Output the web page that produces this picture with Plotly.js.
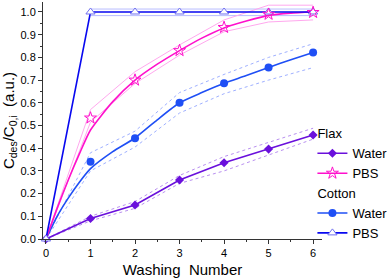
<!DOCTYPE html>
<html><head><meta charset="utf-8">
<script src="https://cdn.plot.ly/plotly-3.0.1.min.js"></script>
<style>html,body{margin:0;padding:0;background:#fff}#chart{width:392px;height:280px}</style>
</head><body><div id="chart"></div>
<script>
// Washing numbers
const washes = [0, 1, 2, 3, 4, 5, 6];
// Measured points
const flaxWater = [0, 0.09, 0.15, 0.26, 0.336, 0.396, 0.458];
const flaxPBS = [0, 0.533, 0.70, 0.83, 0.932, 0.99, 0.998];
const cottonWater = [0, 0.34, 0.444, 0.60, 0.686, 0.756, 0.822];
const cottonPBS = [0, 1, 1, 1, 1, 1, 1];
// Band limits (read from dashed / thin lines)
const flaxWaterUp = [0, 0.10, 0.165, 0.28, 0.363, 0.425, 0.488];
const flaxWaterLo = [0, 0.08, 0.135, 0.245, 0.30, 0.37, 0.44];
const flaxPBSUp = [0, 0.57, 0.737, 0.855, 0.965, 1.03, 1.03];
const flaxPBSLo = [0, 0.515, 0.685, 0.81, 0.913, 0.956, 0.965];
const cottonWaterUp = [0, 0.38, 0.475, 0.645, 0.725, 0.80, 0.86];
const cottonWaterLo = [0, 0.30, 0.405, 0.555, 0.64, 0.70, 0.755];
const cottonPBSx = [1, 2, 3, 4, 5, 6];
const cottonPBSUp = [1.013, 1.013, 1.013, 1.013, 1.013, 1.013];
const cottonPBSLo = [0.984, 0.984, 0.984, 0.984, 0.984, 0.984];
// Fitted curves
const curveX = [0, 0.25, 0.5, 0.75, 1, 1.5, 2, 2.5, 3, 3.5, 4, 4.5, 5, 5.5, 6];
const flaxPBSCurve = [0, 0.135, 0.26, 0.375, 0.48, 0.605, 0.70, 0.77, 0.83, 0.885, 0.93, 0.96, 0.985, 0.995, 1.0];
const cottonWaterCurve = [0, 0.10, 0.18, 0.25, 0.31, 0.385, 0.445, 0.525, 0.60, 0.645, 0.686, 0.72, 0.756, 0.79, 0.822];

const cFW = '#6A10DC', cFP = '#FF10CC', cCW = '#1F4FF5', cCP = '#0808F0';
const band = (x, y, col, dash) => ({x, y, mode: 'lines', line: {color: col, width: 1, dash: dash}, showlegend: false, hoverinfo: 'skip'});

const traces = [
  band(cottonPBSx, cottonPBSUp, '#B8BCFF', 'solid'),
  band(cottonPBSx, cottonPBSLo, '#B8BCFF', 'solid'),
  band(washes, flaxPBSUp, '#FFA8EE', 'solid'),
  band(washes, flaxPBSLo, '#FFA8EE', 'solid'),
  band(washes, cottonWaterUp, '#9FB0FF', 'dot'),
  band(washes, cottonWaterLo, '#9FB0FF', 'dot'),
  band(washes, flaxWaterUp, '#B990F0', 'dot'),
  band(washes, flaxWaterLo, '#B990F0', 'dot'),
  {x: curveX, y: cottonWaterCurve, mode: 'lines', line: {color: cCW, width: 1.6, shape: 'spline', smoothing: 0.6}, showlegend: false},
  {x: curveX, y: flaxPBSCurve, mode: 'lines', line: {color: cFP, width: 1.6, shape: 'spline', smoothing: 0.6}, showlegend: false},
  {x: washes, y: flaxWater, mode: 'lines+markers', line: {color: cFW, width: 1.6}, marker: {symbol: 'diamond', size: 7, color: cFW}, showlegend: false, cliponaxis: false},
  {x: washes, y: cottonPBS, mode: 'lines+markers', line: {color: cCP, width: 1.6}, marker: {symbol: 'triangle-up', size: 8, color: '#ffffff', line: {color: '#7070F0', width: 1}}, showlegend: false, cliponaxis: false},
  {x: washes.slice(1), y: flaxPBS.slice(1), mode: 'markers', marker: {symbol: 'star-open', size: 9, color: cFP, line: {width: 1}}, showlegend: false, cliponaxis: false},
  {x: washes.slice(1), y: cottonWater.slice(1), mode: 'markers', marker: {symbol: 'circle', size: 8, color: cCW}, showlegend: false, cliponaxis: false},
  // legend entries
  {x: [null], y: [null], mode: 'lines+markers', name: 'Water', legendgroup: 'flax', legendgrouptitle: {text: 'Flax', font: {size: 13, color: '#000'}}, line: {color: cFW, width: 1.6}, marker: {symbol: 'diamond', size: 7, color: cFW}},
  {x: [null], y: [null], mode: 'lines+markers', name: 'PBS', legendgroup: 'flax', line: {color: cFP, width: 1.6}, marker: {symbol: 'star-open', size: 9, color: cFP}},
  {x: [null], y: [null], mode: 'lines+markers', name: 'Water', legendgroup: 'cotton', legendgrouptitle: {text: 'Cotton', font: {size: 13, color: '#000'}}, line: {color: cCW, width: 1.6}, marker: {symbol: 'circle', size: 8, color: cCW}},
  {x: [null], y: [null], mode: 'lines+markers', name: 'PBS', legendgroup: 'cotton', line: {color: cCP, width: 1.6}, marker: {symbol: 'triangle-up', size: 8, color: '#fff', line: {color: '#7070F0', width: 1}}}
];

const layout = {
  width: 392, height: 280,
  margin: {l: 43, r: 70, t: 2, b: 41, autoexpand: false},
  paper_bgcolor: '#fff', plot_bgcolor: '#fff',
  font: {family: 'Liberation Sans, Arial, sans-serif', color: '#000'},
  xaxis: {range: [-0.067, 6.2], tickvals: washes, ticks: 'outside', ticklen: 4, tickwidth: 1, tickcolor: '#333',
    minor: {dtick: 0.5, ticks: 'outside', ticklen: 2, tickcolor: '#333'},
    showline: true, linecolor: '#333', linewidth: 1, showgrid: false, zeroline: false,
    tickfont: {size: 11}, title: {text: 'Washing  Number', font: {size: 15}, standoff: 6}},
  yaxis: {range: [0, 1.044], tick0: 0, dtick: 0.1, tickformat: '.1f', ticks: 'outside', ticklen: 4, tickwidth: 1, tickcolor: '#333',
    minor: {dtick: 0.05, ticks: 'outside', ticklen: 2, tickcolor: '#333'},
    showline: true, linecolor: '#333', linewidth: 1, showgrid: false, zeroline: false,
    tickfont: {size: 11}, title: {text: 'C<sub>des</sub>/C<sub>0,i</sub>  (a.u.)', font: {size: 15}, standoff: 4}},
  legend: {xref: 'container', yref: 'container', x: 0.797, y: 0.577, xanchor: 'left', yanchor: 'top',
    font: {size: 13}, bgcolor: 'rgba(0,0,0,0)', tracegroupgap: 0, itemwidth: 30},
  showlegend: true
};
Plotly.newPlot('chart', traces, layout, {staticPlot: true, displayModeBar: false});
</script></body></html>
